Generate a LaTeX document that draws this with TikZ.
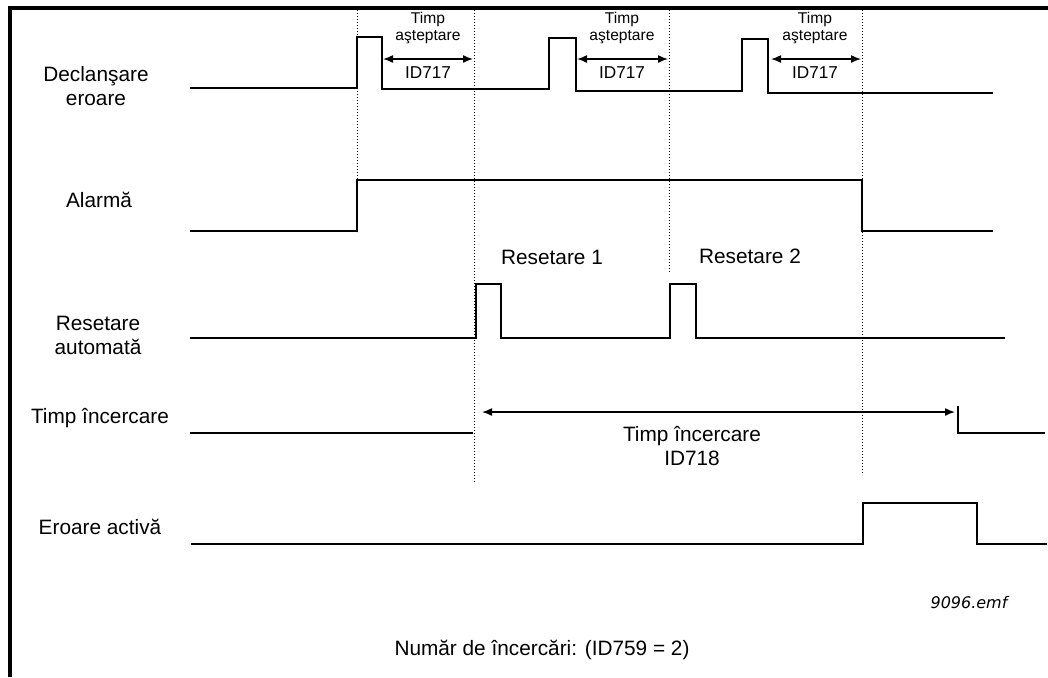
\documentclass[tikz,border=0pt]{standalone}
\usepackage{fontspec}
\setmainfont{Liberation Sans}
\newfontfamily\emffont{DejaVu Sans}
\usetikzlibrary{arrows.meta}
\begin{document}
\begin{tikzpicture}[x=0.5pt,y=-0.5pt,
  sig/.style={line width=0.75pt, line join=miter},
  vguide/.style={line width=0.5pt, dash pattern=on 0.7pt off 0.8pt},
  dimarrow/.style={line width=0.75pt, {Latex[length=5pt,width=4pt]}-{Latex[length=5pt,width=4pt]}},
  lbl/.style={font=\fontsize{10.4}{12}\selectfont, align=center, inner sep=0pt},
  smalllbl/.style={font=\fontsize{7.8}{8.8}\selectfont, align=center, inner sep=0pt},
  framebar/.style={line width=2pt}]
\useasboundingbox (0,0) rectangle (1048,677);
% frame (only top and left edges visible)
\draw[framebar] (1048,7.5) -- (9.5,7.5) -- (9.5,677);

% row labels
\node[lbl] (lDecl) at (96,86.5) {Declanşare\\eroare};
\node[lbl] (lAlarm) at (99,200) {Alarmă};
\node[lbl] (lReset) at (98,335) {Resetare\\automată};
\node[lbl] (lTimp) at (100,418) {Timp încercare};
\node[lbl] (lErr) at (100,527) {Eroare activă};

% dotted guide lines
\draw[vguide] (357,7) -- (357,232);
\draw[vguide] (474,7) -- (474,483);
\draw[vguide] (669,7) -- (669,273);
\draw[vguide] (862,7) -- (862,475);

% Declansare eroare
\draw[sig] (190,88) -- (357,88) -- (357,37) -- (382,37) -- (382,89) -- (549,89)
  -- (549,38) -- (576,38) -- (576,91) -- (742,91) -- (742,39) -- (768,39) -- (768,93) -- (993,93);
% Alarma
\draw[sig] (190,231) -- (357,231) -- (357,180) -- (862,180) -- (862,231) -- (993,231);
% Resetare automata
\draw[sig] (190,338) -- (476,338) -- (476,284) -- (501,284) -- (501,338) -- (670,338)
  -- (670,284) -- (696,284) -- (696,338) -- (1005,338);
% Timp incercare
\draw[sig] (190,433) -- (473,433);
\draw[sig] (958,406) -- (958,433) -- (1045,433);
% Eroare activa
\draw[sig] (191,544) -- (863,544) -- (863,503) -- (977,503) -- (977,544) -- (1047,544);

% waiting time arrows
\coordinate (w1a) at (383,59); \coordinate (w1b) at (473,59);
\coordinate (w2a) at (577,59); \coordinate (w2b) at (668,59);
\coordinate (w3a) at (771,59); \coordinate (w3b) at (861,59);
\draw[dimarrow] (w1a) -- (w1b);
\draw[dimarrow] (w2a) -- (w2b);
\draw[dimarrow] (w3a) -- (w3b);
\node[smalllbl] (t1) at (428,28) {Timp\\aşteptare};
\node[smalllbl] (t2) at (622,28) {Timp\\aşteptare};
\node[smalllbl] (t3) at (815,28) {Timp\\aşteptare};
\node[smalllbl, font=\fontsize{8.6}{10}\selectfont] (i1) at (428,73) {ID717};
\node[smalllbl, font=\fontsize{8.6}{10}\selectfont] (i2) at (622,73) {ID717};
\node[smalllbl, font=\fontsize{8.6}{10}\selectfont] (i3) at (815,73) {ID717};

% reset labels
\node[lbl] (r1) at (552,257) {Resetare 1};
\node[lbl] (r2) at (750,256) {Resetare 2};

% retry time arrow
\coordinate (ta) at (482,412); \coordinate (tb) at (955,412);
\draw[dimarrow] (ta) -- (tb);
\node[lbl] (tl) at (692,446) {Timp încercare\\ID718};

% footer texts
\node[inner sep=0pt, font=\emffont\itshape\fontsize{8}{9}\selectfont] (emf) at (969,603) {9096.emf};
\node[lbl] (cnt) at (542,650) {Număr de încercări: (ID759 = 2)};
\end{tikzpicture}
\end{document}
